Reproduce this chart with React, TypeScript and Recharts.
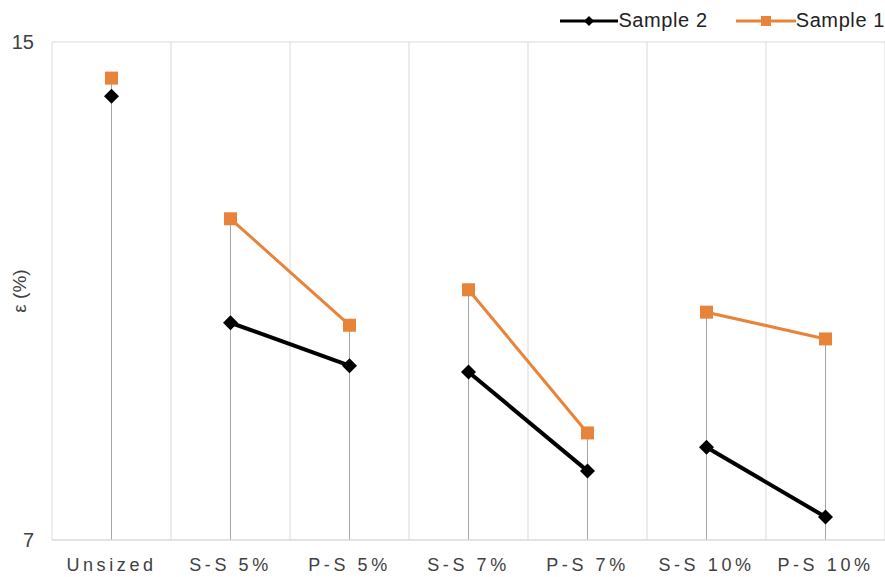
import { ComposedChart, Line, Bar, XAxis, YAxis, CartesianGrid } from 'recharts';

const categories = ['Unsized', 'S-S 5%', 'P-S 5%', 'S-S 7%', 'P-S 7%', 'S-S 10%', 'P-S 10%'];
const groups = ['u', 'g5', 'g5', 'g7', 'g7', 'g10', 'g10'];
const sample1 = [14.42, 12.16, 10.45, 11.02, 8.72, 10.66, 10.23];
const sample2 = [14.13, 10.49, 9.8, 9.7, 8.11, 8.49, 7.37];
const yTicks = [7, 15];

const groupIds = ['u', 'g5', 'g7', 'g10'];
const ORANGE = '#e8833a';
const BLACK = '#000000';
const FONT = '"Liberation Sans", Arial, sans-serif';

// one row per category, split each sample into per-group keys so the lines only join pairs
const data = categories.map((name, i) => {
  const row: Record<string, any> = {
    name,
    drop: [yTicks[0], Math.max(sample1[i], sample2[i])],
  };
  row[`s1_${groups[i]}`] = sample1[i];
  row[`s2_${groups[i]}`] = sample2[i];
  return row;
});

const Diamond = (props: any) => {
  const { cx, cy, value } = props;
  if (value == null || cx == null || cy == null) return null;
  const r = 7.5;
  return (
    <path
      key={`d-${cx}-${cy}`}
      d={`M${cx},${cy - r}L${cx + r},${cy}L${cx},${cy + r}L${cx - r},${cy}Z`}
      fill={BLACK}
    />
  );
};

const Square = (props: any) => {
  const { cx, cy, value } = props;
  if (value == null || cx == null || cy == null) return null;
  const s = 13;
  return <rect key={`s-${cx}-${cy}`} x={cx - s / 2} y={cy - s / 2} width={s} height={s} fill={ORANGE} />;
};

const LegendBox = () => (
  <div
    style={{
      position: 'absolute',
      top: 9,
      right: 0,
      display: 'flex',
      alignItems: 'center',
      fontFamily: FONT,
      fontSize: 20,
      letterSpacing: 0.6,
      color: '#222',
    }}
  >
    <svg width={58} height={16}>
      <line x1={0} y1={8} x2={58} y2={8} stroke={BLACK} strokeWidth={3} />
      <path d="M29,3L34,8L29,13L24,8Z" fill={BLACK} />
    </svg>
    <span style={{ marginRight: 28 }}>Sample 2</span>
    <svg width={60} height={16}>
      <line x1={0} y1={8} x2={60} y2={8} stroke={ORANGE} strokeWidth={3} />
      <rect x={25} y={3} width={10} height={10} fill={ORANGE} />
    </svg>
    <span>Sample 1</span>
  </div>
);

export default function App() {
  return (
    <div style={{ position: 'absolute', left: 0, top: 0, width: 885, height: 577, background: '#fff' }}>
      <ComposedChart
        width={885}
        height={577}
        data={data}
        margin={{ top: 42, right: 0, bottom: 0, left: 0 }}
        barCategoryGap={0}
      >
        <CartesianGrid
          stroke="#d9d9d9"
          verticalCoordinatesGenerator={({ offset }: any) =>
            Array.from({ length: categories.length + 1 }, (_, i) => offset.left + (i * offset.width) / categories.length)
          }
        />
        <XAxis
          dataKey="name"
          height={37}
          tickLine={false}
          axisLine={{ stroke: '#d9d9d9' }}
          interval={0}
          tick={{ fill: '#404040', fontSize: 18, fontFamily: FONT, letterSpacing: 3.6 }}
          tickMargin={12}
        />
        <YAxis
          domain={[7, 15]}
          ticks={yTicks}
          width={52}
          axisLine={false}
          tickLine={false}
          tick={{ fill: '#404040', fontSize: 20, fontFamily: FONT }}
          tickMargin={12}
          label={{
            value: 'ε (%)',
            angle: -90,
            position: 'insideLeft',
            offset: 19,
            style: { fill: '#404040', fontSize: 19, fontFamily: FONT, textAnchor: 'middle' },
          }}
        />
        <Bar dataKey="drop" barSize={1} fill="#a6a6a6" isAnimationActive={false} legendType="none" />
        {groupIds.map((g) => (
          <Line
            key={`s1_${g}`}
            dataKey={`s1_${g}`}
            stroke={ORANGE}
            strokeWidth={3}
            dot={<Square />}
            activeDot={false}
            connectNulls={false}
            isAnimationActive={false}
            legendType="none"
          />
        ))}
        {groupIds.map((g) => (
          <Line
            key={`s2_${g}`}
            dataKey={`s2_${g}`}
            stroke={BLACK}
            strokeWidth={4}
            dot={<Diamond />}
            activeDot={false}
            connectNulls={false}
            isAnimationActive={false}
            legendType="none"
          />
        ))}
      </ComposedChart>
      <LegendBox />
    </div>
  );
}
